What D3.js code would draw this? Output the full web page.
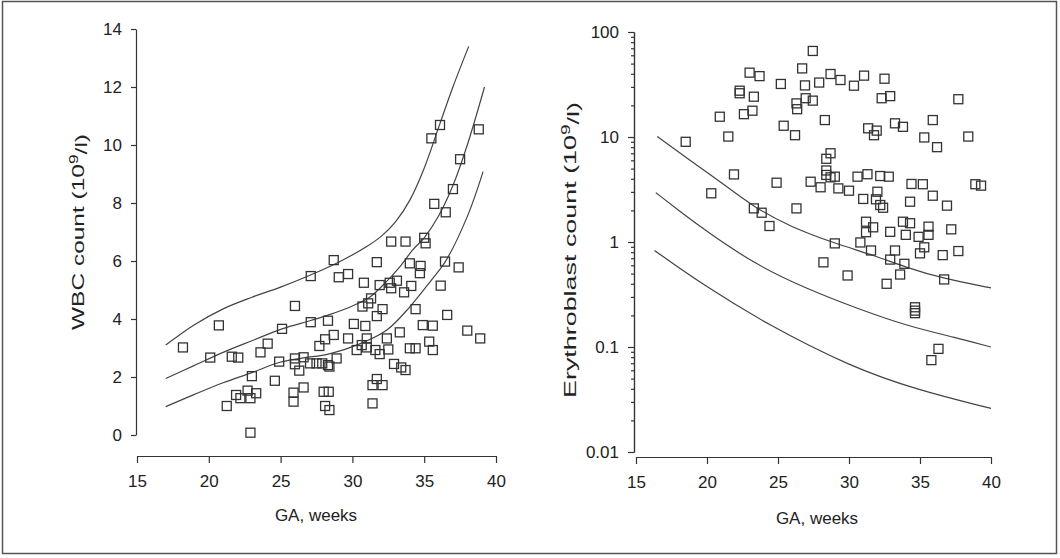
<!DOCTYPE html>
<html>
<head>
<meta charset="utf-8">
<script src="https://cdn.jsdelivr.net/npm/d3@7"></script>
<style>
  body { margin: 0; background: #fff; }
  svg { display: block; font-family: 'Liberation Sans', Arial, sans-serif; }
  .axis path, .axis line { stroke: #333; stroke-width: 1.2; }
  .axis text { font-size: 17px; fill: #222; }
  .title { font-size: 17px; fill: #222; }
</style>
</head>
<body>
<svg id="chart" width="1060" height="558"></svg>
<script>
// WBC panel (left)
const wbc_ga = [18.2, 20.7, 20.1, 21.6, 22.05, 23.6, 24.1, 25.1, 26.0, 27.1, 28.7, 27.1, 28.3, 31.7, 29.05, 29.7,
  30.8, 31.9, 32.6, 32.7, 33.1, 34.0, 34.75, 34.7, 34.1, 33.6, 36.45, 37.4, 36.15, 31.3, 31.1, 30.7, 32.1, 31.7,
  34.4, 36.6, 38.0, 38.9, 34.9, 35.6, 35.35, 35.6, 33.3, 32.4, 32.5, 34.0, 34.4, 32.9, 33.4, 33.7, 31.4, 32.1,
  31.7, 31.4, 30.1, 30.9, 29.7, 31.0, 30.65, 30.3, 31.0, 31.6, 31.9, 28.7, 28.1, 27.7, 28.9, 28.3, 28.4, 27.9,
  27.5, 27.05, 26.6, 26.0, 26.0, 24.9, 26.3, 26.6, 25.9, 25.9, 28.0, 28.35, 28.1, 28.4, 24.6, 23.0, 21.25, 21.9,
  22.2, 22.7, 22.9, 23.3, 22.9, 36.1, 35.5, 38.8, 37.5, 37.0, 35.7, 36.5, 35.0, 35.1, 32.7, 33.7];
const wbc_count = [3.02, 3.78, 2.67, 2.70, 2.67, 2.85, 3.15, 3.66, 4.45, 5.48, 6.03, 3.89, 3.94, 5.96, 5.44, 5.55,
  5.25, 5.17, 5.25, 5.06, 5.32, 5.92, 5.83, 5.58, 5.14, 4.92, 5.98, 5.78, 5.15, 4.71, 4.54, 4.43, 4.34, 4.10,
  4.34, 4.14, 3.60, 3.33, 3.79, 3.77, 3.22, 2.93, 3.54, 3.33, 2.95, 2.99, 2.99, 2.45, 2.33, 2.24, 1.72, 1.72,
  1.93, 1.09, 3.83, 3.76, 3.33, 3.33, 3.10, 2.93, 3.02, 2.93, 2.79, 3.45, 3.30, 3.07, 2.64, 2.41, 2.36, 2.47,
  2.47, 2.47, 2.68, 2.64, 2.44, 2.53, 2.22, 1.64, 1.46, 1.15, 1.49, 1.49, 1.0, 0.86, 1.87, 2.03, 1.0, 1.38,
  1.27, 1.53, 1.27, 1.44, 0.08, 10.69, 10.23, 10.54, 9.51, 8.48, 7.97, 7.68, 6.80, 6.61, 6.67, 6.67];

const wbc_upper = [[17, 3.1], [19, 3.8], [21, 4.35], [23, 4.75], [25, 5.1], [27, 5.5], [29, 5.95], [31, 6.5],
  [32, 6.85], [33, 7.35], [34, 8.1], [35, 9.2], [36, 10.6], [37, 12.0], [38.1, 13.4]];
const wbc_middle = [[17, 1.95], [19, 2.4], [21, 2.85], [23, 3.25], [25.1, 3.66], [27.1, 3.95], [28.4, 4.15],
  [30, 4.45], [31.2, 4.75], [32.2, 5.2], [33.3, 5.8], [34.2, 6.38], [35, 6.8], [36, 7.55], [37, 8.6], [38, 10.0],
  [39.2, 12.0]];
const wbc_lower = [[17, 0.98], [19, 1.4], [21, 1.8], [23, 2.15], [24.9, 2.5], [26.5, 2.65], [28.4, 2.8],
  [30.6, 3.16], [32.4, 3.62], [34, 4.42], [35.5, 5.34], [36.45, 5.96], [38, 7.53], [39.1, 9.08]];

// Erythroblast panel (right)
const ery_ga = [27.45, 26.7, 23.0, 23.7, 25.2, 26.9, 27.9, 22.3, 22.3, 23.3, 26.95, 27.45, 26.3, 26.35, 23.2,
  22.6, 20.9, 25.4, 26.2, 21.5, 18.5, 21.9, 24.9, 27.3, 20.3, 23.3, 23.85, 26.3, 24.4, 28.7, 29.4, 30.35, 31.06,
  32.5, 32.3, 32.9, 37.7, 28.3, 31.35, 31.95, 31.76, 33.24, 33.8, 35.9, 35.3, 36.2, 38.4, 28.7, 28.4, 28.4,
  28.4, 28.7, 29.0, 28.0, 29.25, 30.0, 30.6, 31.3, 32.2, 32.8, 31.0, 32.0, 31.9, 32.2, 32.4, 34.4, 35.2, 35.9,
  34.3, 36.9, 38.9, 39.3, 31.2, 31.7, 31.2, 33.8, 34.3, 35.6, 35.6, 34.9, 37.2, 32.9, 34.0, 29.0, 30.8, 31.55,
  33.24, 35.3, 35.0, 32.9, 33.9, 36.6, 37.7, 28.2, 29.9, 33.6, 32.65, 36.7, 34.65, 34.65, 34.65, 36.3, 35.8];
const ery_count = [66, 45, 41, 38, 32, 31, 33, 27.6, 26.1, 24.2, 23.4, 22.2, 20.9, 18.4, 17.8,
  16.5, 15.6, 12.8, 10.4, 10.1, 9.0, 4.4, 3.67, 3.75, 2.91, 2.09, 1.90, 2.09, 1.42, 39.8, 34.9, 30.8, 38.4,
  35.9, 23.4, 24.5, 22.9, 14.5, 12.1, 11.5, 10.4, 13.5, 12.5, 14.5, 9.9, 8.0, 10.1, 7.0, 6.2, 4.8,
  4.35, 4.13, 4.19, 3.32, 3.24, 3.08, 4.19, 4.42, 4.25, 4.19, 2.57, 3.01, 2.55, 2.25, 2.12, 3.57, 3.55, 2.76,
  2.42, 2.22, 3.55, 3.44, 1.56, 1.38, 1.24, 1.56, 1.51, 1.40, 1.17, 1.12, 1.32, 1.25, 1.17, 0.97, 0.99, 0.83,
  0.83, 0.89, 0.78, 0.68, 0.62, 0.75, 0.82, 0.64, 0.48, 0.49, 0.40, 0.44, 0.239, 0.222, 0.21, 0.096, 0.075];

const ery_upper = [[16.5, 10.1], [18.8, 6.0], [21.1, 3.62], [23.3, 2.15], [25.85, 1.4], [29, 0.97], [31.7, 0.75],
  [34.06, 0.57], [36.6, 0.45], [40, 0.365]];
const ery_middle = [[16.4, 2.95], [18, 2.0], [20, 1.25], [23.5, 0.6], [27, 0.36], [30.5, 0.235], [34, 0.16],
  [37.6, 0.122], [40, 0.1]];
const ery_lower = [[16.3, 0.83], [19.6, 0.40], [24.3, 0.162], [30.1, 0.065], [34.8, 0.039], [40, 0.026]];

const ga_ticks = [15, 20, 25, 30, 35, 40];
const wbc_ticks = [0, 2, 4, 6, 8, 10, 12, 14];
const ery_ticks = [0.01, 0.1, 1, 10, 100];

const svg = d3.select('#chart');

svg.append('rect')
  .attr('x', 2.5).attr('y', 1.5)
  .attr('width', 1054).attr('height', 552)
  .attr('fill', 'none').attr('stroke', '#555').attr('stroke-width', 1.5);

const line_style = sel => sel.attr('fill', 'none').attr('stroke', '#444').attr('stroke-width', 1.2);
const square = 9;

// y titles are drawn stretched along the axis, like the scanned original
function y_title(x, y, len, name) {
  const t = svg.append('text').attr('class', 'title')
    .attr('transform', `translate(${x},${y}) rotate(-90)`)
    .attr('text-anchor', 'middle')
    .attr('textLength', len)
    .attr('lengthAdjust', 'spacingAndGlyphs');
  t.append('tspan').text(name + ' (10');
  t.append('tspan').attr('dy', '-0.5em').attr('font-size', '12px').text('9');
  t.append('tspan').attr('dy', '0.5em').text('/l)');
}

// ---- left panel ----
const x1 = d3.scaleLinear().domain([15, 40]).range([137, 496]);
const y1 = d3.scaleLinear().domain([0, 14]).range([435, 29]);

svg.append('g').attr('class', 'axis')
  .attr('transform', 'translate(136,0)')
  .call(d3.axisLeft(y1).tickValues(wbc_ticks).tickSize(5).tickSizeOuter(0).tickPadding(9));

svg.append('g').attr('class', 'axis')
  .attr('transform', 'translate(0,456)')
  .call(d3.axisBottom(x1).tickValues(ga_ticks).tickSize(7).tickSizeOuter(0).tickPadding(12));

const line1 = d3.line().x(d => x1(d[0])).y(d => y1(d[1])).curve(d3.curveCatmullRom);
[wbc_upper, wbc_middle, wbc_lower].forEach(c => {
  svg.append('path').attr('d', line1(c)).call(line_style);
});

svg.append('g').selectAll('rect')
  .data(wbc_ga.map((g, i) => [g, wbc_count[i]]))
  .enter()
  .append('rect')
  .attr('x', d => x1(d[0]) - square / 2)
  .attr('y', d => y1(d[1]) - square / 2)
  .attr('width', square).attr('height', square)
  .attr('fill', 'none').attr('stroke', '#333').attr('stroke-width', 1.3);

y_title(84, 232, 196, 'WBC count');

svg.append('text').attr('class', 'title')
  .attr('x', 316).attr('y', 521).attr('text-anchor', 'middle')
  .text('GA, weeks');

// ---- right panel ----
const x2 = d3.scaleLinear().domain([15, 40]).range([636, 991]);
const y2 = d3.scaleLog().domain([0.01, 100]).range([452, 32]);

const minor = [];
ery_ticks.slice(0, -1).forEach(t => {
  for (let m = 2; m < 10; m++) minor.push(t * m);
});

svg.append('g').attr('class', 'axis')
  .attr('transform', 'translate(634,0)')
  .call(d3.axisLeft(y2).tickValues(minor).tickSize(3).tickSizeOuter(0).tickFormat(''));

svg.append('g').attr('class', 'axis')
  .attr('transform', 'translate(634,0)')
  .call(d3.axisLeft(y2).tickValues(ery_ticks).tickSize(6).tickSizeOuter(0).tickPadding(9)
    .tickFormat(d => String(d)));

svg.append('g').attr('class', 'axis')
  .attr('transform', 'translate(0,457)')
  .call(d3.axisBottom(x2).tickValues(ga_ticks).tickSize(7).tickSizeOuter(0).tickPadding(12));

const line2 = d3.line().x(d => x2(d[0])).y(d => y2(d[1])).curve(d3.curveBasis);
[ery_upper, ery_middle, ery_lower].forEach(c => {
  svg.append('path').attr('d', line2(c)).call(line_style);
});

svg.append('g').selectAll('rect')
  .data(ery_ga.map((g, i) => [g, ery_count[i]]))
  .enter()
  .append('rect')
  .attr('x', d => x2(d[0]) - square / 2)
  .attr('y', d => y2(d[1]) - square / 2)
  .attr('width', square).attr('height', square)
  .attr('fill', 'none').attr('stroke', '#333').attr('stroke-width', 1.3);

y_title(576, 250, 296, 'Erythroblast count');

svg.append('text').attr('class', 'title')
  .attr('x', 817).attr('y', 524).attr('text-anchor', 'middle')
  .text('GA, weeks');
</script>
</body>
</html>
